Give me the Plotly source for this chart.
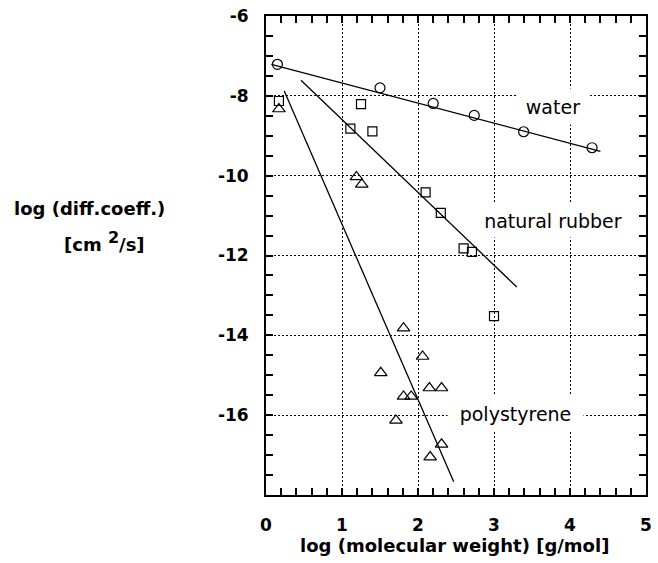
import plotly.graph_objects as go

# Diffusion coefficient vs. molecular weight of the penetrant
water_x = [0.15, 1.50, 2.20, 2.74, 3.39, 4.29]
water_y = [-7.21, -7.80, -8.19, -8.49, -8.90, -9.30]

rubber_x = [0.17, 1.25, 1.11, 1.40, 2.10, 2.30, 2.60, 2.71, 3.00]
rubber_y = [-8.13, -8.21, -8.82, -8.89, -10.42, -10.93, -11.82, -11.91, -13.52]

ps_x = [0.17, 1.19, 1.26, 1.81, 2.06, 1.51, 2.15, 2.31, 1.81, 1.91, 1.71, 2.31, 2.16]
ps_y = [-8.33, -10.03, -10.22, -13.82, -14.53, -14.94, -15.32, -15.32, -15.53,
        -15.53, -16.13, -16.73, -17.05]

# straight-line fits (end points)
water_fit_x = [0.07, 4.40]
water_fit_y = [-7.21, -9.39]
rubber_fit_x = [0.46, 3.30]
rubber_fit_y = [-7.61, -12.79]
ps_fit_x = [0.24, 2.47]
ps_fit_y = [-7.88, -17.67]

x_ticks = [0, 1, 2, 3, 4, 5]
y_ticks = [-16, -14, -12, -10, -8, -6]
x_range = [0, 5]
y_range = [-18, -6]

FONT = "DejaVu Sans"
TICK_W = 1.5
TICK_L = 7

fig = go.Figure()

for fx, fy in [(water_fit_x, water_fit_y), (rubber_fit_x, rubber_fit_y), (ps_fit_x, ps_fit_y)]:
    fig.add_trace(go.Scatter(x=fx, y=fy, mode="lines",
                             line=dict(color="black", width=1.3),
                             showlegend=False, hoverinfo="skip"))

fig.add_trace(go.Scatter(x=water_x, y=water_y, mode="markers", name="water",
                         marker=dict(symbol="circle-open", size=10, color="black",
                                     line=dict(color="black", width=1.2)),
                         showlegend=False))
fig.add_trace(go.Scatter(x=rubber_x, y=rubber_y, mode="markers", name="natural rubber",
                         marker=dict(symbol="square-open", size=9, color="black",
                                     line=dict(color="black", width=1.2)),
                         showlegend=False))
fig.add_trace(go.Scatter(x=ps_x, y=ps_y, mode="markers", name="polystyrene",
                         marker=dict(symbol="triangle-up-open", size=11, color="black",
                                     line=dict(color="black", width=1.2)),
                         showlegend=False))

# empty carrier trace so the top / right tick axes get drawn
fig.add_trace(go.Scatter(x=[x_range[0]], y=[y_range[0]], xaxis="x2", yaxis="y2",
                         mode="markers", marker=dict(opacity=0),
                         showlegend=False, hoverinfo="skip"))

# series labels sitting on white boxes over the grid
labels = [
    ("water", 3.776, -8.26, 72, 35),
    ("natural rubber", 3.78, -11.13, 150, 33),
    ("polystyrene", 3.28, -15.96, 135, 35),
]
for text, lx, ly, w, h in labels:
    fig.add_annotation(x=lx, y=ly, xref="x", yref="y", text=text, showarrow=False,
                       font=dict(family=FONT, size=19, color="black"),
                       bgcolor="white", width=w, height=h, borderpad=0,
                       xanchor="center", yanchor="middle")

# axis titles
fig.add_annotation(x=0.497, y=-0.106, xref="paper", yref="paper",
                   text="log (molecular weight) [g/mol]", showarrow=False,
                   font=dict(family=FONT, size=18, color="black", weight="bold"),
                   xanchor="center", yanchor="middle")
fig.add_annotation(x=(87 - 266) / 386, y=(495 - 207.7) / 481, xref="paper", yref="paper",
                   text="log (diff.coeff.)", showarrow=False,
                   font=dict(family=FONT, size=18, color="black", weight="bold"),
                   xanchor="center", yanchor="middle")
fig.add_annotation(x=(101.7 - 266) / 386, y=(495 - 240) / 481, xref="paper", yref="paper",
                   text="[cm <sup><span style='font-size:16px'>2</span></sup>/s]",
                   showarrow=False,
                   font=dict(family=FONT, size=18, color="black", weight="bold"),
                   xanchor="center", yanchor="middle")

axis_common = dict(
    showline=True, linecolor="black", linewidth=2, mirror=True,
    ticks="inside", ticklen=TICK_L, tickwidth=TICK_W, tickcolor="black",
    showgrid=True, gridcolor="black", gridwidth=1, griddash="2px,2px",
    zeroline=False,
    tickfont=dict(family=FONT, size=17, color="black", weight="bold"),
)

fig.update_layout(
    xaxis=dict(range=x_range, tickmode="array", tickvals=x_ticks,
               ticktext=[str(v) for v in x_ticks], ticklabelstandoff=14,
               minor=dict(dtick=0.2, tick0=0, ticks="inside", ticklen=TICK_L,
                          tickwidth=TICK_W, tickcolor="black", showgrid=False),
               **axis_common),
    yaxis=dict(range=y_range, tickmode="array", tickvals=y_ticks,
               ticktext=[str(v) for v in y_ticks], ticklabelstandoff=12,
               minor=dict(dtick=0.5, tick0=-18, ticks="inside", ticklen=TICK_L,
                          tickwidth=TICK_W, tickcolor="black", showgrid=False),
               **axis_common),
    # tick marks along the top and right edges of the frame
    xaxis2=dict(range=x_range, overlaying="x", side="top", anchor="y2",
                tickmode="linear", tick0=0, dtick=0.2, ticks="inside", ticklen=TICK_L,
                tickwidth=TICK_W, tickcolor="black", showticklabels=False,
                showgrid=False, showline=False, zeroline=False),
    yaxis2=dict(range=y_range, overlaying="y", side="right", anchor="x2",
                tickmode="linear", tick0=-18, dtick=0.5, ticks="inside", ticklen=TICK_L,
                tickwidth=TICK_W, tickcolor="black", showticklabels=False,
                showgrid=False, showline=False, zeroline=False),
    width=658, height=563,
    margin=dict(l=266, r=6, t=14, b=68),
    paper_bgcolor="white", plot_bgcolor="white",
    font=dict(family=FONT, color="black"),
)

fig.write_html("out.html")
